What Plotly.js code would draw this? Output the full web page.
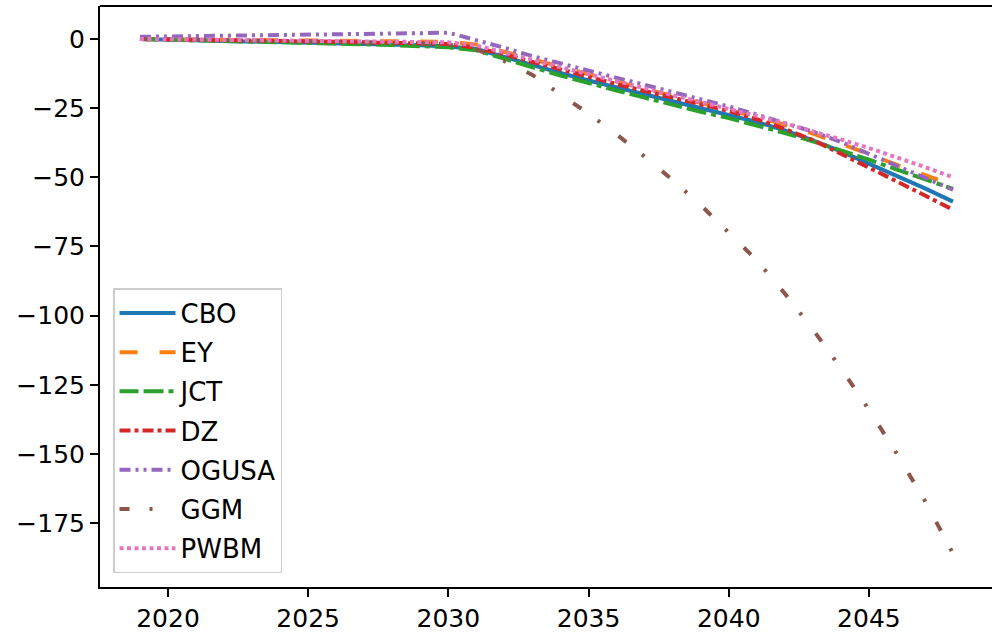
<!DOCTYPE html>
<html>
<head>
<meta charset="utf-8">
<script src="https://cdn.plot.ly/plotly-3.0.1.min.js"></script>
<style>html,body{margin:0;padding:0;background:#fff;}#chart{width:992px;height:634px;}</style>
</head>
<body>
<div id="chart"></div>
<script>
const years = [2019,2020,2021,2022,2023,2024,2025,2026,2027,2028,2029,2030,2031,2032,2033,2034,2035,2036,2037,2038,2039,2040,2041,2042,2043,2044,2045,2046,2047,2048];

const cbo   = [0,-0.2,-0.4,-0.6,-0.8,-1.0,-1.2,-1.4,-1.7,-2.0,-2.3,-2.7,-3.6,-6.5,-9.5,-12.3,-15.0,-17.5,-20.0,-22.5,-25.0,-27.3,-30.0,-33.0,-36.6,-40.6,-45.0,-49.4,-54.0,-58.8];
const ey    = [0,-0.1,-0.2,-0.3,-0.4,-0.5,-0.5,-0.6,-0.7,-0.8,-0.9,-1.0,-2.0,-4.5,-7.3,-10.0,-12.8,-15.4,-18.0,-20.5,-23.0,-25.5,-28.2,-31.0,-34.2,-37.8,-41.8,-45.5,-49.2,-52.8];
const jct   = [0,-0.2,-0.4,-0.6,-0.9,-1.1,-1.4,-1.6,-1.9,-2.2,-2.6,-3.0,-4.1,-7.0,-10.2,-13.2,-16.0,-18.6,-21.2,-23.8,-26.3,-28.6,-31.2,-34.0,-37.0,-40.2,-43.6,-47.2,-50.8,-54.2];
const dz    = [0,-0.1,-0.3,-0.4,-0.6,-0.7,-0.9,-1.0,-1.2,-1.4,-1.6,-1.8,-3.2,-5.5,-8.3,-11.0,-13.8,-16.3,-18.8,-21.2,-23.6,-26.0,-29.0,-32.5,-36.5,-41.3,-46.5,-51.5,-56.6,-61.7];
const ogusa = [0.8,0.9,1.0,1.1,1.2,1.3,1.4,1.5,1.7,1.9,2.1,2.3,-0.4,-3.2,-6.2,-8.8,-11.3,-13.8,-16.4,-19.0,-21.6,-24.4,-27.3,-30.3,-33.5,-37.2,-41.5,-45.8,-50.2,-54.5];
const ggm   = [0,-0.1,-0.2,-0.4,-0.5,-0.7,-0.8,-1.0,-1.2,-1.4,-1.7,-2.0,-3.8,-8.0,-13.0,-20.0,-27.0,-34.5,-42.5,-51.0,-60.0,-70.0,-80.0,-92.0,-105.0,-119.0,-134.0,-150.0,-167.0,-186.0];
const pwbm  = [0,-0.1,-0.2,-0.3,-0.4,-0.5,-0.6,-0.7,-0.8,-0.9,-1.0,-1.2,-2.3,-4.8,-7.5,-10.2,-12.8,-15.3,-17.8,-20.3,-22.8,-25.2,-27.8,-30.5,-33.3,-36.3,-39.4,-42.8,-46.3,-50.0];

const seriesNames = ["CBO","EY","JCT","DZ","OGUSA","GGM","PWBM"];
const seriesData = [cbo, ey, jct, dz, ogusa, ggm, pwbm];
const colors = ["#1f77b4","#ff7f0e","#2ca02c","#d62728","#9467bd","#8c564b","#e377c2"];
const dashes = ["solid","18px,22px","19px,5px,20px,5px,5px,5px","11px,4px,4px,4px","11px,5px,3px,5px,3px,5px","10px,20px,3px,23px","4px,3.5px"];

const traces = seriesNames.map((n, i) => ({
  x: years, y: seriesData[i], name: n, type: "scatter", mode: "lines",
  legendgroup: "g" + i,
  line: {color: colors[i], width: 4, dash: dashes[i]}
}));

const font = {family: "DejaVu Sans", size: 25, color: "#000"};
const legendFont = {family: "DejaVu Sans", size: 26, color: "#000"};
const layout = {
  width: 992, height: 634,
  margin: {l: 100, r: 0, t: 6, b: 47},
  paper_bgcolor: "#fff", plot_bgcolor: "#fff",
  font: font,
  showlegend: true,
  legend: {x: 0.0146, y: 0.024, xanchor: "left", yanchor: "bottom",
           bgcolor: "rgba(255,255,255,0.8)", bordercolor: "#cccccc", borderwidth: 1.5,
           font: legendFont, traceorder: "grouped", tracegroupgap: 2.4, itemwidth: 56},
  xaxis: {range: [2017.575, 2049.39], tick0: 2020, dtick: 5, showgrid: false, zeroline: false,
          showline: true, linecolor: "#000", linewidth: 2, ticks: "outside", ticklen: 8, tickwidth: 2,
          tickcolor: "#000", tickfont: font},
  yaxis: {range: [-198.1, 11.93], tick0: 0, dtick: 25, showgrid: false, zeroline: false,
          showline: true, linecolor: "#000", linewidth: 2, ticks: "outside", ticklen: 8, tickwidth: 2,
          tickcolor: "#000", tickfont: font},
  shapes: [{type: "line", xref: "paper", yref: "paper", x0: 0, x1: 1, y0: 1, y1: 1,
            line: {color: "#000", width: 2}}]
};
Plotly.newPlot("chart", traces, layout, {displayModeBar: false, staticPlot: true});
</script>
</body>
</html>
